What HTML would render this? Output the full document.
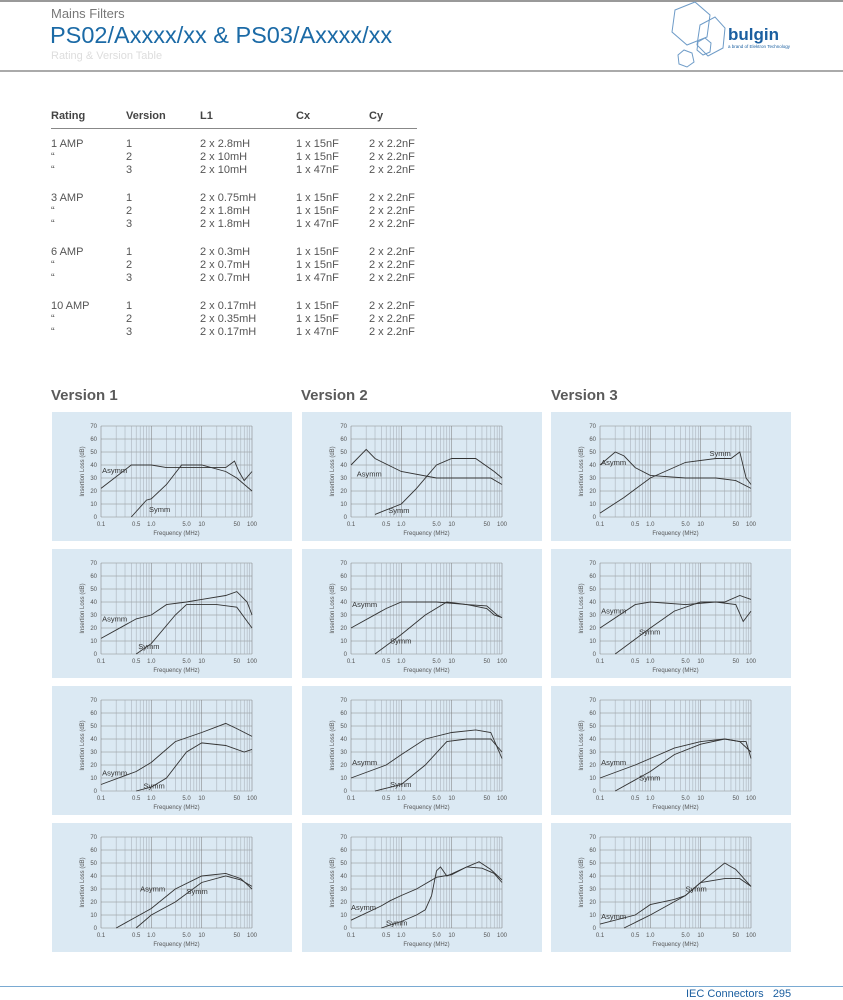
<!DOCTYPE html>
<html><head><meta charset="utf-8">
<style>
body{margin:0;width:843px;height:1000px;background:#fff;position:relative;overflow:hidden;font-family:"Liberation Sans",sans-serif;}
.a{position:absolute;white-space:nowrap;}
.t{font-size:11px;color:#555;}
.h{font-size:11px;color:#444;font-weight:bold;}
.vt{font-size:15px;font-weight:bold;color:#5a5a5a;}
</style></head><body>
<div class="a" style="left:0;top:0;width:843px;height:2px;background:#999"></div>
<div class="a" style="left:0;top:70px;width:843px;height:2px;background:#aaa"></div>
<div class="a" style="left:51px;top:6px;font-size:13px;color:#777">Mains Filters</div>
<div class="a" style="left:50px;top:22px;font-size:23.5px;color:#1b6aa6">PS02/Axxxx/xx &amp; PS03/Axxxx/xx</div>
<div class="a" style="left:51px;top:50px;font-size:11px;color:#ddd">Rating &amp; Version Table</div>
<svg class="a" style="left:670px;top:0" width="173" height="72">
<g fill="none" stroke="#6f9cc8" stroke-width="1">
<polygon points="23,8 43,0 58,13 55,35 35,43 20,30" transform="translate(-18,2)"/>
<polygon points="30,25 45,17 55,28 53,48 38,56 27,45"/>
<polygon points="8,55 14,50 22,53 24,62 17,67 9,64"/>
<polygon points="28,42 35,38 41,43 40,52 33,55 27,50"/>
</g>
<text x="58" y="40" font-family="Liberation Sans" font-weight="bold" font-size="17" fill="#1b5fa0">bulgin</text>
<text x="58" y="48" font-family="Liberation Sans" font-size="4.5" fill="#1b5fa0">a brand of Elektron Technology</text>
</svg>

<div class="a h" style="left:51px;top:110px">Rating</div>
<div class="a h" style="left:126px;top:110px">Version</div>
<div class="a h" style="left:200px;top:110px">L1</div>
<div class="a h" style="left:296px;top:110px">Cx</div>
<div class="a h" style="left:369px;top:110px">Cy</div>
<div class="a" style="left:51px;top:128px;width:366px;height:1px;background:#888"></div>
<div id="tbl"></div>

<div class="a vt" style="left:51px;top:387px">Version 1</div>
<div class="a vt" style="left:301px;top:387px">Version 2</div>
<div class="a vt" style="left:551px;top:387px">Version 3</div>
<div id="charts"></div>

<div class="a" style="left:0;top:986px;width:843px;height:1px;background:#7aaad2"></div>
<div class="a" style="left:686px;top:988px;font-size:11px;color:#1b5fa0">IEC Connectors&nbsp;&nbsp;&nbsp;295</div>
<script>
var rows=[["1 AMP","1","2 x 2.8mH","1 x 15nF"],["“","2","2 x 10mH","1 x 15nF"],["“","3","2 x 10mH","1 x 47nF"],
["3 AMP","1","2 x 0.75mH","1 x 15nF"],["“","2","2 x 1.8mH","1 x 15nF"],["“","3","2 x 1.8mH","1 x 47nF"],
["6 AMP","1","2 x 0.3mH","1 x 15nF"],["“","2","2 x 0.7mH","1 x 15nF"],["“","3","2 x 0.7mH","1 x 47nF"],
["10 AMP","1","2 x 0.17mH","1 x 15nF"],["“","2","2 x 0.35mH","1 x 15nF"],["“","3","2 x 0.17mH","1 x 47nF"]];
var h="",xs=[51,126,200,296,369];
rows.forEach(function(r,i){var y=138+Math.floor(i/3)*54+(i%3)*13;r=r.concat(["2 x 2.2nF"]);
r.forEach(function(c,j){h+='<div class="a t" style="left:'+xs[j]+'px;top:'+y+'px">'+c+'</div>';});});
document.getElementById("tbl").innerHTML=h;

var D=[
[[[0.1,22],[0.4,40],[1,40],[2,38],[10,38],[30,38],[45,43],[55,35],[70,28],[100,35]],[[0.4,0],[0.8,13],[1,14],[2,25],[4,40],[10,40],[30,35],[50,30],[100,20]],[0.105,34],[0.9,4]],
[[[0.1,40],[0.2,52],[0.3,45],[1,35],[5,30],[30,30],[60,30],[100,25]],[[0.3,2],[1,10],[2,22],[5,40],[10,45],[30,45],[70,35],[100,30]],[0.13,31],[0.55,3]],
[[[0.1,40],[0.2,50],[0.3,47],[0.5,38],[1,32],[5,30],[20,30],[50,28],[100,22]],[[0.1,3],[0.3,15],[1,30],[5,42],[20,45],[40,45],[60,50],[80,30],[100,25]],[0.105,40],[15,47]],
[[[0.1,12],[0.5,27],[1,30],[2,38],[5,40],[10,42],[30,45],[50,48],[80,40],[100,30]],[[0.5,0],[1,8],[3,30],[5,38],[20,38],[50,36],[100,20]],[0.105,25],[0.55,4]],
[[[0.1,20],[0.5,35],[1,40],[5,40],[20,38],[50,35],[70,30],[100,28]],[[0.3,0],[1,15],[3,30],[8,40],[20,38],[50,37],[80,30],[100,28]],[0.105,36],[0.6,8]],
[[[0.1,20],[0.5,38],[1,40],[5,38],[20,40],[50,38],[70,25],[100,33]],[[0.2,0],[1,20],[3,33],[10,40],[30,40],[60,45],[100,42]],[0.105,31],[0.6,15]],
[[[0.1,5],[0.5,15],[1,22],[3,38],[10,45],[30,52],[50,48],[100,42]],[[0.5,0],[1,3],[2,10],[5,30],[10,37],[30,35],[70,30],[100,32]],[0.105,12],[0.7,2]],
[[[0.1,10],[0.5,20],[1,28],[3,40],[10,45],[30,47],[60,45],[100,25]],[[0.3,0],[1,5],[3,20],[8,38],[20,40],[60,40],[100,30]],[0.105,20],[0.6,3]],
[[[0.1,10],[0.5,20],[1,25],[3,33],[10,38],[30,40],[60,38],[100,30]],[[0.2,0],[1,15],[3,28],[10,36],[30,40],[60,38],[80,38],[100,25]],[0.105,20],[0.6,8]],
[[[0.2,0],[1,15],[3,30],[10,40],[30,42],[60,38],[100,30]],[[0.5,0],[1,10],[3,20],[10,35],[30,40],[60,37],[100,32]],[0.6,28],[5,26]],
[[[0.1,6],[0.4,17],[0.6,21],[1,25],[2,30],[5,39],[7,40],[10,41],[20,47],[40,46],[70,42],[100,35]],[[0.4,0],[1,5],[2,10],[3,14],[4,25],[5,44],[6,47],[8,40],[20,47],[35,51],[60,45],[100,37]],[0.1,14],[0.5,2]],
[[[0.1,3],[0.5,10],[1,18],[3,22],[5,25],[10,35],[30,50],[50,45],[100,32]],[[0.3,0],[1,10],[5,25],[10,35],[30,38],[60,38],[100,32]],[0.105,7],[5,28]]];
var c="";
function lg(f){return Math.log(f)/Math.LN10+1;}
D.forEach(function(d,i){
 var col=i%3,row=Math.floor(i/3);
 var X=52+col*249.5,Y=412+row*137;
 var pl=49,pw=151,pt=14,ph=91;
 var s='<svg class="a" style="left:'+X+'px;top:'+Y+'px" width="240" height="129"><rect width="240" height="129" fill="#dbe9f3"/>';
 s+='<g stroke="#8a8a8a" stroke-width="0.5" fill="none">';
 for(var k=0;k<=7;k++){var yy=pt+ph*k/7;s+='<line x1="'+pl+'" x2="'+(pl+pw)+'" y1="'+yy+'" y2="'+yy+'"/>';}
 for(var e=0;e<3;e++)for(var m=1;m<=10;m++){if(e<2&&m==10)continue;var xx=pl+pw*(e+Math.log(m)/Math.LN10)/3;s+='<line y1="'+pt+'" y2="'+(pt+ph)+'" x1="'+xx+'" x2="'+xx+'" stroke="'+(m==1||m==10?'#777':'#a0a8b0')+'"/>';}
 s+='</g><g font-family="Liberation Sans" font-size="6" fill="#555">';
 for(var k=0;k<=7;k++){s+='<text x="'+(pl-4)+'" y="'+(pt+ph-ph*k/7+2)+'" text-anchor="end">'+(k*10)+'</text>';}
 [[0.1,"0.1"],[0.5,"0.5"],[1,"1.0"],[5,"5.0"],[10,"10"],[50,"50"],[100,"100"]].forEach(function(t){var xx=pl+pw*lg(t[0])/3;s+='<text x="'+xx+'" y="'+(pt+ph+9)+'" text-anchor="middle">'+t[1]+'</text>';});
 s+='<text x="'+(pl+pw/2)+'" y="'+(pt+ph+18)+'" text-anchor="middle">Frequency (MHz)</text>';
 s+='<text transform="translate('+(pl-17)+','+(pt+ph/2)+') rotate(-90)" text-anchor="middle">Insertion Loss (dB)</text>';
 function pt2(p){return [pl+pw*lg(p[0])/3,pt+ph-ph*p[1]/70];}
 function path(a){return a.map(function(p,j){var q=pt2(p);return (j?'L':'M')+q[0].toFixed(1)+','+q[1].toFixed(1);}).join('');}
 s+='</g><g fill="none" stroke="#333" stroke-width="0.9"><path d="'+path(d[0])+'"/><path d="'+path(d[1])+'"/></g>';
 var a=pt2(d[2]),b=pt2(d[3]);
 s+='<text font-family="Liberation Sans" font-size="7.5" fill="#333" x="'+a[0]+'" y="'+a[1]+'">Asymm</text>';
 s+='<text font-family="Liberation Sans" font-size="7.5" fill="#333" x="'+b[0]+'" y="'+b[1]+'">Symm</text>';
 s+='</svg>';c+=s;});
document.getElementById("charts").innerHTML=c;
</script>
</body></html>
